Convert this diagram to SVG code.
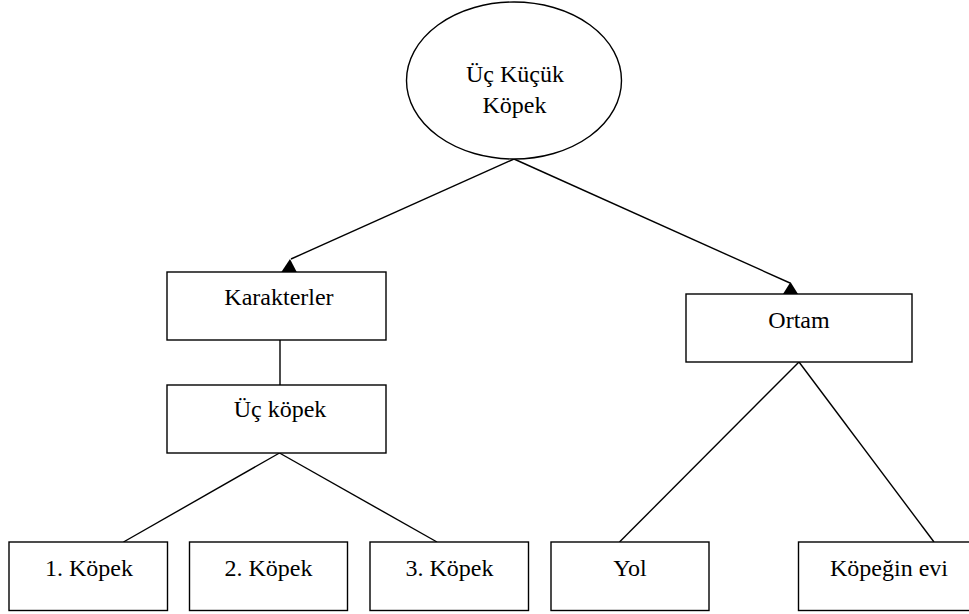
<svg xmlns="http://www.w3.org/2000/svg" width="969" height="614" viewBox="0 0 969 614">
<style>
.box{fill:#fff;stroke:#000;stroke-width:1.4}
.ln{stroke:#000;stroke-width:1.4;fill:none}
.ah{fill:#000;stroke:none}
text{font-family:"Liberation Serif","Times New Roman",serif;font-size:24px;fill:#000;text-anchor:middle}
</style>
<rect width="969" height="614" fill="#fff"/>
<g id="connectors">
<line class="ln" x1="514" y1="159" x2="291" y2="259"/>
<polygon class="ah" points="290,259 281,272.5 297,272.5"/>
<line class="ln" x1="514" y1="159" x2="790" y2="283"/>
<polygon class="ah" points="790.5,282 783,294 798,294"/>
<line class="ln" x1="280" y1="340" x2="280" y2="385"/>
<line class="ln" x1="279.5" y1="453" x2="123.5" y2="542"/>
<line class="ln" x1="279.5" y1="453" x2="437" y2="542"/>
<line class="ln" x1="799" y1="362" x2="619.5" y2="542"/>
<line class="ln" x1="799" y1="362" x2="934" y2="542"/>
</g>
<g id="root">
<ellipse class="box" cx="514" cy="80.5" rx="107.5" ry="78.5"/>
<text x="515" y="82">Üç Küçük</text>
<text x="514.5" y="113">Köpek</text>
</g>
<g id="karakterler">
<rect class="box" x="167" y="272" width="219" height="68"/>
<text x="279" y="305">Karakterler</text>
</g>
<g id="uc-kopek">
<rect class="box" x="167" y="385" width="219" height="68"/>
<text x="280" y="417">Üç köpek</text>
</g>
<g id="ortam">
<rect class="box" x="686" y="294" width="226" height="68"/>
<text x="799" y="327.5">Ortam</text>
</g>
<g id="kopek1">
<rect class="box" x="9" y="542" width="158.5" height="68.5"/>
<text x="89" y="575.5">1. Köpek</text>
</g>
<g id="kopek2">
<rect class="box" x="189.5" y="542" width="158" height="68.5"/>
<text x="268.5" y="575.5">2. Köpek</text>
</g>
<g id="kopek3">
<rect class="box" x="370" y="542" width="158.5" height="68.5"/>
<text x="449.5" y="575.5">3. Köpek</text>
</g>
<g id="yol">
<rect class="box" x="551" y="542" width="158" height="68.5"/>
<text x="630" y="575.5">Yol</text>
</g>
<g id="kopegin-evi">
<rect class="box" x="798.5" y="542" width="182" height="68.5"/>
<text x="889" y="575.5">Köpeğin evi</text>
</g>
</svg>
